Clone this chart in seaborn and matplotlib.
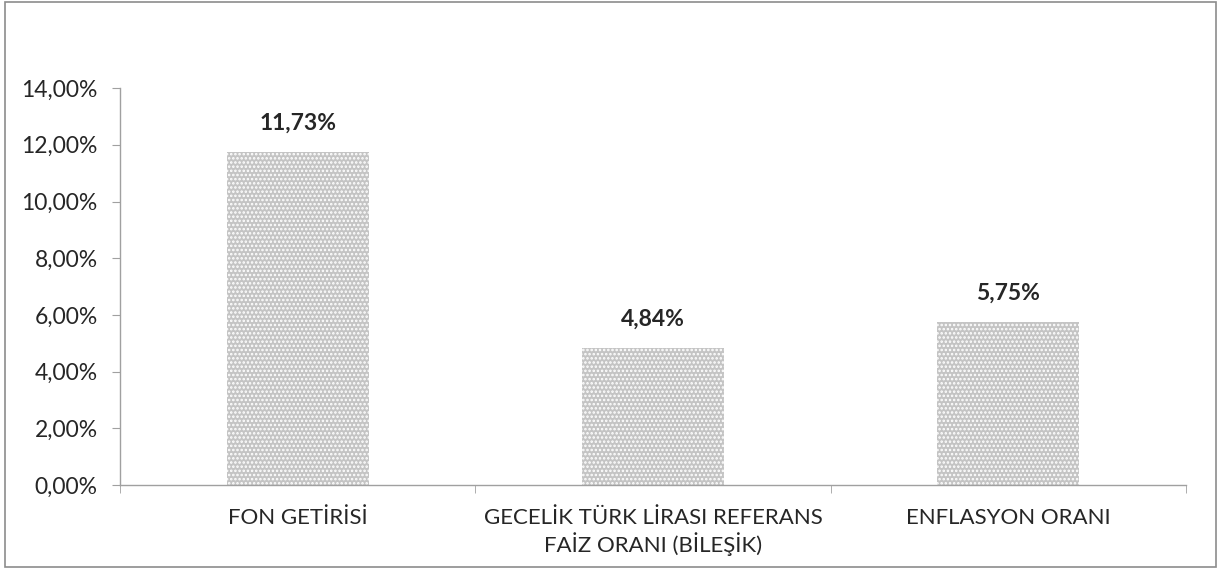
import matplotlib
matplotlib.use('Agg')
import matplotlib.pyplot as plt
import seaborn as sns
import pandas as pd
from matplotlib.patches import Rectangle
from matplotlib.ticker import FuncFormatter, FixedLocator

categories = ['FON GETİRİSİ', 'GECELİK TÜRK LİRASI REFERANS\nFAİZ ORANI (BİLEŞİK)', 'ENFLASYON ORANI']
values = [0.1173, 0.0484, 0.0575]
labels = ['11,73%', '4,84%', '5,75%']

df = pd.DataFrame({'kategori': categories, 'oran': values})

sns.set_style('white')
plt.rcParams['font.family'] = ['Lato', 'DejaVu Sans']
plt.rcParams['hatch.color'] = 'white'
plt.rcParams['hatch.linewidth'] = 1.2

fig = plt.figure(figsize=(12.25, 5.72), dpi=100)
ax = fig.add_axes([0.098, 0.152, 0.87, 0.694])

sns.barplot(data=df, x='kategori', y='oran', color='#c4c4c4', width=0.4,
            saturation=1, ax=ax)
for p in ax.patches:
    p.set_hatch('....')
    p.set_edgecolor('white')
    p.set_linewidth(0)

# etiketler
for i, (v, t) in enumerate(zip(values, labels)):
    ax.text(i, v + 0.0065, t, ha='center', va='bottom', fontsize=16.5, fontweight='bold')

ax.set_ylim(0, 0.14)
ax.set_xlim(-0.5, 2.5)
ax.yaxis.set_major_formatter(FuncFormatter(lambda y, _: f'{y*100:.2f}%'.replace('.', ',')))
ax.set_yticks([i * 0.02 for i in range(8)])
ax.set_xlabel('')
ax.set_ylabel('')

for s in ['top', 'right']:
    ax.spines[s].set_visible(False)
for s in ['left', 'bottom']:
    ax.spines[s].set_color('#a0a0a0')
    ax.spines[s].set_linewidth(1)

ax.tick_params(axis='y', left=True, length=6, color='#a0a0a0', labelsize=16.5, pad=10)
ax.tick_params(axis='x', bottom=False, labelsize=16, pad=13)
ax.xaxis.set_minor_locator(FixedLocator([-0.5, 0.5, 1.5, 2.5]))
ax.tick_params(axis='x', which='minor', bottom=True, length=6, color='#a0a0a0')

fig.patches.append(Rectangle((0.004, 0.008), 0.989, 0.988, transform=fig.transFigure,
                             fill=False, edgecolor='#8c8c8c', linewidth=1.2))

fig.savefig('out.png', dpi=100)
